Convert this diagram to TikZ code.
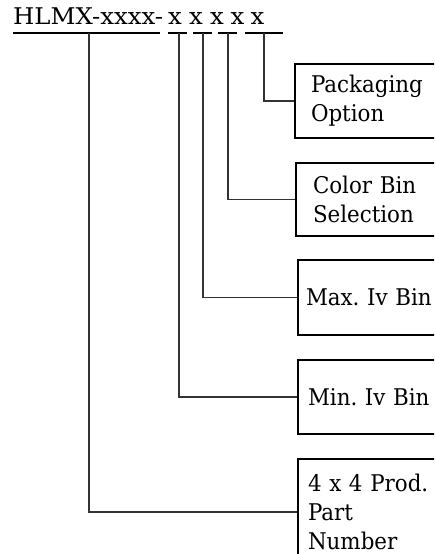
\documentclass[tikz,border=0pt]{standalone}
\usepackage{fontspec}
\setmainfont[FakeStretch=0.93]{DejaVu Serif}
\newfontfamily\titlefont[FakeStretch=1.06]{DejaVu Serif}
\frenchspacing
\begin{document}
\begin{tikzpicture}[x=1pt,y=-1pt,
  lbl/.style={font=\titlefont\fontsize{23}{29}\selectfont, inner sep=0pt},
  box/.style={draw, line width=2pt, anchor=north west, align=left,
    text width=150pt, inner xsep=14pt, inner ysep=0pt,
    font=\fontsize{23}{29}\selectfont},
  conn/.style={draw, line width=1.3pt, color=black!80},
  uline/.style={draw, line width=2.2pt}]
\useasboundingbox (0,0) rectangle (434,554);
\clip (0,0) rectangle (434,554);
% title
\node[lbl, anchor=base west] (title) at (13,24) {HLMX-xxxx-};
\node[lbl, anchor=base] (x1) at (175,24) {x};
\node[lbl, anchor=base] (x2) at (196,24) {x};
\node[lbl, anchor=base] (x3) at (217,24) {x};
\node[lbl, anchor=base] (x4) at (237.5,24) {x};
\node[lbl, anchor=base] (x5) at (257.5,24) {x};
\coordinate (u1a) at (13,33);  \coordinate (u1b) at (160,33);
\coordinate (u2a) at (168,33); \coordinate (u2b) at (187,33);
\coordinate (u3a) at (193,33); \coordinate (u3b) at (212,33);
\coordinate (u4a) at (218,33); \coordinate (u4b) at (237,33);
\coordinate (u5a) at (245,33); \coordinate (u5b) at (283,33);
\draw[uline] (u1a) -- (u1b);
\draw[uline] (u2a) -- (u2b);
\draw[uline] (u3a) -- (u3b);
\draw[uline] (u4a) -- (u4b);
\draw[uline] (u5a) -- (u5b);
\coordinate (t1) at (89,33);
\coordinate (t2) at (179,33);
\coordinate (t3) at (203,33);
\coordinate (t4) at (228,33);
\coordinate (t5) at (264,33);
% boxes
\node[box, minimum height=74pt, inner xsep=16pt] (pk) at (294,63) {Packaging\\Option};
\node[box, minimum height=73pt, inner xsep=17pt] (cb) at (295,162) {Color Bin\\Selection};
\node[box, minimum height=75pt, inner xsep=8pt] (mx) at (297,259) {Max. Iv Bin};
\node[box, minimum height=74pt, inner xsep=10pt] (mn) at (297,359) {Min. Iv Bin};
\node[box, minimum height=106pt, inner xsep=10pt] (pn) at (297,458) {4 x 4 Prod.\\Part\\Number};
% connectors
\draw[conn] (t5) |- (pk.west);
\draw[conn] (t4) |- (cb.west);
\draw[conn] (t3) |- (mx.west);
\draw[conn] (t2) |- (mn.west);
\draw[conn] (t1) |- (pn.west);
\end{tikzpicture}
\end{document}
